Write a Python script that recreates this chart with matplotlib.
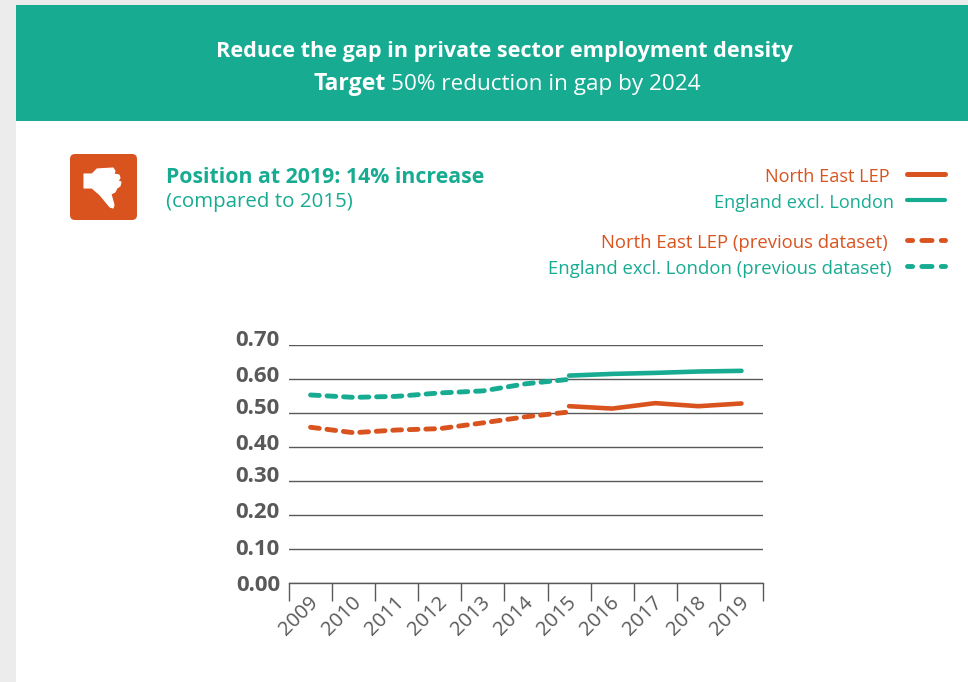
import matplotlib
matplotlib.use("Agg")
import matplotlib.pyplot as plt
from matplotlib.patches import Rectangle, FancyBboxPatch, Polygon
from matplotlib.transforms import ScaledTranslation, Affine2D

W, H = 968, 682
TEAL = "#17ab92"
ORANGE = "#d9531f"
GREY = "#595959"
FONT = "Open Sans"

years = ["2009", "2010", "2011", "2012", "2013", "2014",
         "2015", "2016", "2017", "2018", "2019"]
y_ticks = [0.0, 0.1, 0.2, 0.3, 0.4, 0.5, 0.6, 0.7]
y_tick_labels = ["0.00", "0.10", "0.20", "0.30", "0.40", "0.50", "0.60", "0.70"]
# Hand-placed label shifts (pixels) used by the report layout
y_label_shift = [0, 2, 5, 7, 5.5, 7, 4.5, 7.5]

north_east_prev = [0.458, 0.442, 0.450, 0.454, 0.471, 0.489, 0.503]
england_prev = [0.553, 0.546, 0.549, 0.559, 0.565, 0.586, 0.599]
north_east = [0.520, 0.513, 0.529, 0.520, 0.528]
england = [0.610, 0.615, 0.618, 0.622, 0.624]

plt.rcParams["font.family"] = [FONT, "DejaVu Sans"]
fig = plt.figure(figsize=(W / 100, H / 100), dpi=100, facecolor="white")

# Page furniture is laid out in pixels, top-left origin
page = Affine2D().scale(1 / W, -1 / H).translate(0, 1) + fig.transFigure


def ptext(x, y, s, **kw):
    kw.setdefault("va", "center")
    return fig.text(x, y, s, transform=page, **kw)


fig.add_artist(Rectangle((0, 0), 16, H, transform=page, fc="#ececec", ec="none"))
fig.add_artist(Rectangle((0, 0), W, 5, transform=page, fc="#ececec", ec="none"))
fig.add_artist(Rectangle((16, 5), W - 16, 116, transform=page, fc=TEAL, ec="none"))

ptext(504.5, 51.5, "Reduce the gap in private sector employment density",
      ha="center", color="white", fontsize=15.6, fontweight="bold")
ptext(386, 84.5, "Target", ha="right", color="white", fontsize=16.6, fontweight="bold")
ptext(391, 84.5, "50% reduction in gap by 2024", ha="left", color="white", fontsize=16.2)

# Thumbs-down badge
fig.add_artist(FancyBboxPatch((73, 157), 61, 60, boxstyle="round,pad=3,rounding_size=5",
                              transform=page, fc=ORANGE, ec="none"))
thumb = [(84, 174), (92, 174), (97, 169), (113, 168), (115, 171), (114, 174),
         (119, 175), (120, 178), (118, 181), (121, 182), (120, 186), (117, 188),
         (115, 192), (111, 194), (114, 205), (113, 208), (110, 207), (100, 195),
         (92, 188), (84, 188)]
fig.add_artist(Polygon(thumb, closed=True, transform=page, fc="white", ec="white",
                       lw=0.8, joinstyle="round"))

ptext(166, 177.5, "Position at 2019: 14% increase", color=TEAL, fontsize=15.35, fontweight="bold")
ptext(166, 202, "(compared to 2015)", color=TEAL, fontsize=14.75)

# Legend entries, right aligned against their line samples
legend_dash = (1.05, (2.1, 1.9))
legend = [("North East LEP", ORANGE, 890, 175, "-", 3.6, 13.1),
          ("England excl. London", TEAL, 894, 201, "-", 3.0, 13.1),
          ("North East LEP (previous dataset)", ORANGE, 888, 241, legend_dash, 3.5, 13.35),
          ("England excl. London (previous dataset)", TEAL, 892, 267, legend_dash, 3.5, 13.35)]
for label, colour, xr, y, style, lw, size in legend:
    ptext(xr, y + 1.5, label, ha="right", color=colour, fontsize=size)
    fig.add_artist(plt.Line2D([907, 945], [y - 1, y - 1], transform=page, color=colour,
                              lw=lw, ls=style, dash_capstyle="round",
                              solid_capstyle="round"))

# Line chart
ax = fig.add_axes([289 / W, 1 - 583 / H, 474 / W, 238 / H])
ax.set_xlim(-0.5, 10.5)
ax.set_ylim(0, 0.7)
ax.patch.set_alpha(0)
for name in ("top", "right", "left"):
    ax.spines[name].set_visible(False)
ax.spines["bottom"].set_color(GREY)
ax.spines["bottom"].set_linewidth(1)
ax.grid(axis="y", color=GREY, lw=1)
ax.set_axisbelow(True)

ax.set_yticks(y_ticks, y_tick_labels, fontsize=16, fontweight="bold", color=GREY)
ax.tick_params(axis="y", length=0, pad=6.5)
for label, dy in zip(ax.get_yticklabels(), y_label_shift):
    label.set_transform(label.get_transform() +
                        ScaledTranslation(0, dy / 100, fig.dpi_scale_trans))

ax.set_xticks([i - 0.5 for i in range(len(years) + 1)], [""] * (len(years) + 1))
ax.set_xticks(range(len(years)), years, minor=True, rotation=45, fontsize=14.6,
              color=GREY, ha="center", va="top", rotation_mode="default")
ax.tick_params(axis="x", which="major", length=13, width=1, color=GREY)
ax.tick_params(axis="x", which="minor", length=0, pad=7)
for label in ax.get_xticklabels(minor=True):
    label.set_transform(label.get_transform() +
                        ScaledTranslation(-12 / 100, 0, fig.dpi_scale_trans))

prev_x = range(7)
new_x = range(6, 11)
dash = (0, (1.8, 1.6))
ax.plot(prev_x, england_prev, color=TEAL, lw=3.5, ls=dash, dash_capstyle="round")
ax.plot(prev_x, north_east_prev, color=ORANGE, lw=3.5, ls=dash, dash_capstyle="round")
ax.plot(new_x, england, color=TEAL, lw=3.3, solid_capstyle="round")
ax.plot(new_x, north_east, color=ORANGE, lw=3.3, solid_capstyle="round")

fig.savefig("out.png", dpi=100)
